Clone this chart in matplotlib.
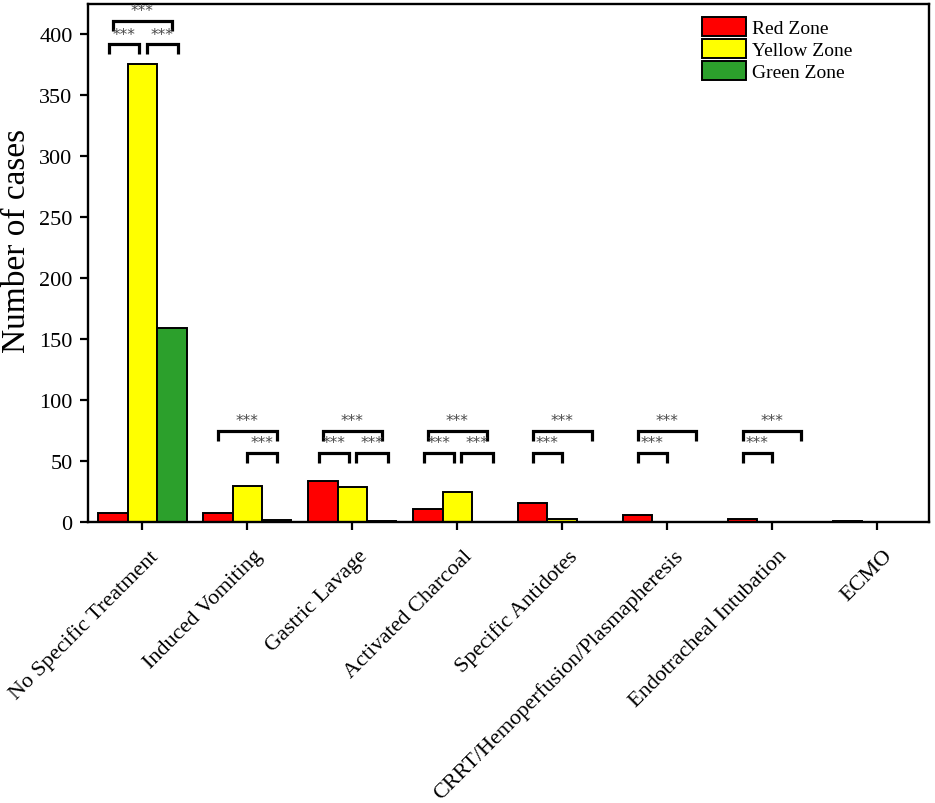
import numpy as np
import matplotlib
matplotlib.use("Agg")
import matplotlib.pyplot as plt
import matplotlib.transforms as mtransforms

plt.rcParams['font.family'] = ['Liberation Serif', 'DejaVu Serif']

categories = ["No Specific Treatment", "Induced Vomiting", "Gastric Lavage",
              "Activated Charcoal", "Specific Antidotes",
              "CRRT/Hemoperfusion/Plasmapheresis", "Endotracheal Intubation", "ECMO"]
red_zone = [8, 8, 34, 11, 16, 6, 3, 1]
yellow_zone = [376, 30, 29, 25, 3, 0, 0, 0]
green_zone = [159, 2, 1, 0, 0, 0, 0, 0]

# brackets: (group, level) red vs green on top; lower pairs  bars: 0 red, 1 yellow, 2 green
sig_high = [(0, 405), (1, 69), (2, 69), (3, 69), (4, 69), (5, 69), (6, 69)]
sig_low = {0: [(0, 1), (1, 2)], 1: [(1, 2)], 2: [(0, 1), (1, 2)], 3: [(0, 1), (1, 2)],
           4: [(0, 1)], 5: [(0, 1)], 6: [(0, 1)]}
low_level = {0: 386, 1: 51, 2: 51, 3: 51, 4: 51, 5: 51, 6: 51}

fig = plt.figure(figsize=(9.35, 8.04), dpi=100)
ax = fig.add_axes([0.094, 0.349, 0.9, 0.645])

x = np.arange(len(categories))
w = 0.28
colors = ['#ff0000', '#ffff00', '#2ca02c']
names = ['Red Zone', 'Yellow Zone', 'Green Zone']
for i, vals in enumerate([red_zone, yellow_zone, green_zone]):
    ax.bar(x + (i - 1) * w, vals, w, color=colors[i], edgecolor='black',
           linewidth=1.4, label=names[i], zorder=2)

def bracket(x0, x1, y, h):
    ax.plot([x0, x0, x1, x1], [y - h, y, y, y - h], color='black', lw=2.3,
            solid_joinstyle='miter', solid_capstyle='butt', zorder=3)
    ax.text((x0 + x1) / 2, y + 2, '***', ha='center', va='bottom',
            fontsize=11, color='#4a4a4a', family='DejaVu Sans')

for g, lvl in sig_high:
    bracket(g - w, g + w, lvl + 6, 8)
for g, pairs in sig_low.items():
    for a, b in pairs:
        if len(pairs) == 2:
            x0 = g + (a - 1) * w - (0.04 if a == 0 else -0.04)
            x1 = g + (b - 1) * w - (0.03 if b == 1 else -0.06)
        else:
            x0 = g + (a - 1) * w
            x1 = g + (b - 1) * w
        bracket(x0, x1, low_level[g] + 6, 8)

ax.set_xlim(-0.52, 7.5)
ax.set_ylim(0, 425)
ax.set_yticks(np.arange(0, 401, 50))
ax.set_xticks(x)
ax.set_xticklabels(categories, rotation=45, ha='right', rotation_mode='anchor',
                   fontsize=16)
ax.tick_params(axis='y', labelsize=16, width=1.6, length=6, pad=5)
ax.tick_params(axis='x', width=1.6, length=6, pad=11)
shift = mtransforms.ScaledTranslation(6 / 100, 0, fig.dpi_scale_trans)
for lab in ax.get_xticklabels():
    lab.set_transform(lab.get_transform() + shift)
ax.set_ylabel('Number of cases', fontsize=24)
ax.yaxis.set_label_coords(-0.066, 0.544)
for s in ax.spines.values():
    s.set_linewidth(1.7)

leg = ax.legend(loc='upper left', bbox_to_anchor=(0.730, 0.975), frameon=False,
                fontsize=14, handlelength=2.27, handleheight=1.13,
                handletextpad=0.3, labelspacing=0.1, borderaxespad=0,
                borderpad=0)

fig.savefig('out.png', dpi=100)
